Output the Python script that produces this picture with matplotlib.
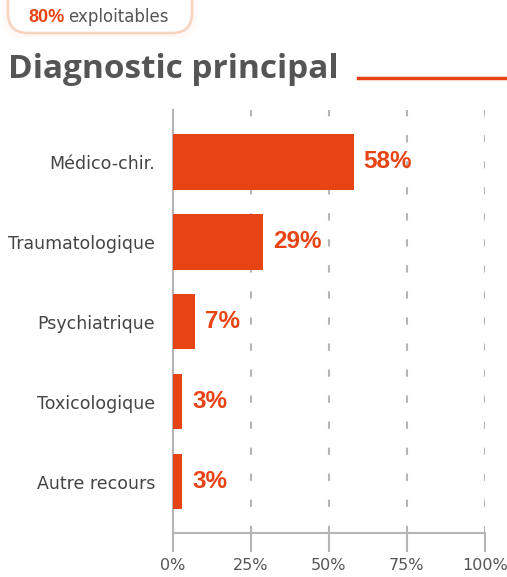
import matplotlib.pyplot as plt
from matplotlib.patches import FancyBboxPatch
from matplotlib.lines import Line2D

# données
categories = ['Médico-chir.', 'Traumatologique', 'Psychiatrique', 'Toxicologique', 'Autre recours']
valeurs = [58, 29, 7, 3, 3]
ticks = [0, 25, 50, 75, 100]
tick_labels = ['0%', '25%', '50%', '75%', '100%']
badge_pct = '80%'
badge_txt = 'exploitables'
titre = 'Diagnostic principal'

orange = '#E84315'
gris = '#555555'
gris_ligne = '#b5b5b5'

plt.rcParams['font.family'] = ['DejaVu Sans']
gras = ['Liberation Sans', 'DejaVu Sans']

fig = plt.figure(figsize=(5.07, 5.77), dpi=100)
W, H = 507, 577

ax = fig.add_axes([173 / W, (H - 533) / H, 312 / W, (533 - 110) / H])
y = list(range(len(categories)))
ax.barh(y, valeurs, height=0.69, color=orange, zorder=3)
ax.set_ylim(len(categories) - 1 + 0.64, -0.65)
ax.set_xlim(0, 100)
ax.set_yticks(y)
ax.set_yticklabels(categories, fontsize=12.5, color='#444444')
ax.tick_params(axis='y', length=0, pad=13)
ax.set_xticks(ticks)
ax.set_xticklabels(tick_labels, fontsize=11.5, color=gris)
ax.tick_params(axis='x', length=14, width=1.5, color=gris_ligne, pad=4)

for t in ticks[1:]:
    ax.axvline(t, color=gris_ligne, lw=1.5, ls=(0, (3.5, 9)), zorder=1)

for s in ['top', 'right']:
    ax.spines[s].set_visible(False)
for s in ['left', 'bottom']:
    ax.spines[s].set_color(gris_ligne)
    ax.spines[s].set_linewidth(1.5)

for yi, v in zip(y, valeurs):
    ax.annotate(f'{v}%', (v, yi), xytext=(7, 0), textcoords='offset points',
                va='center', ha='left', fontsize=17.5, fontweight='bold', color=orange,
                family=gras)

# badge
tr = fig.dpi_scale_trans
for i, a in enumerate([0.05, 0.04, 0.03]):
    d = 0.02 * (i + 1)
    fig.patches.append(FancyBboxPatch((0.08 - d, 5.44 - d), 1.84 + 2 * d, 0.6 + 2 * d,
                                      boxstyle='round,pad=0,rounding_size=0.2',
                                      transform=tr, fc='#F8B898', ec='none', alpha=a))
fig.patches.append(FancyBboxPatch((0.08, 5.44), 1.84, 0.6,
                                  boxstyle='round,pad=0,rounding_size=0.2',
                                  transform=tr, fc='white', ec='#FAD3BD', lw=1.8))
fig.text(28 / W, (H - 22) / H, badge_pct, fontsize=13, fontweight='bold', color=orange,
         va='baseline', family=gras)
fig.text(68 / W, (H - 22) / H, badge_txt, fontsize=12, color=gris, va='baseline')

# titre
fig.text(8 / W, (H - 78) / H, titre, fontsize=24, fontweight='bold', color=gris, va='baseline',
         family=['Open Sans', 'DejaVu Sans'])
fig.lines.append(Line2D([358 / W, 1.0], [(H - 78) / H] * 2, transform=fig.transFigure,
                        color=orange, lw=2.5))

fig.savefig('out.png', dpi=100)
